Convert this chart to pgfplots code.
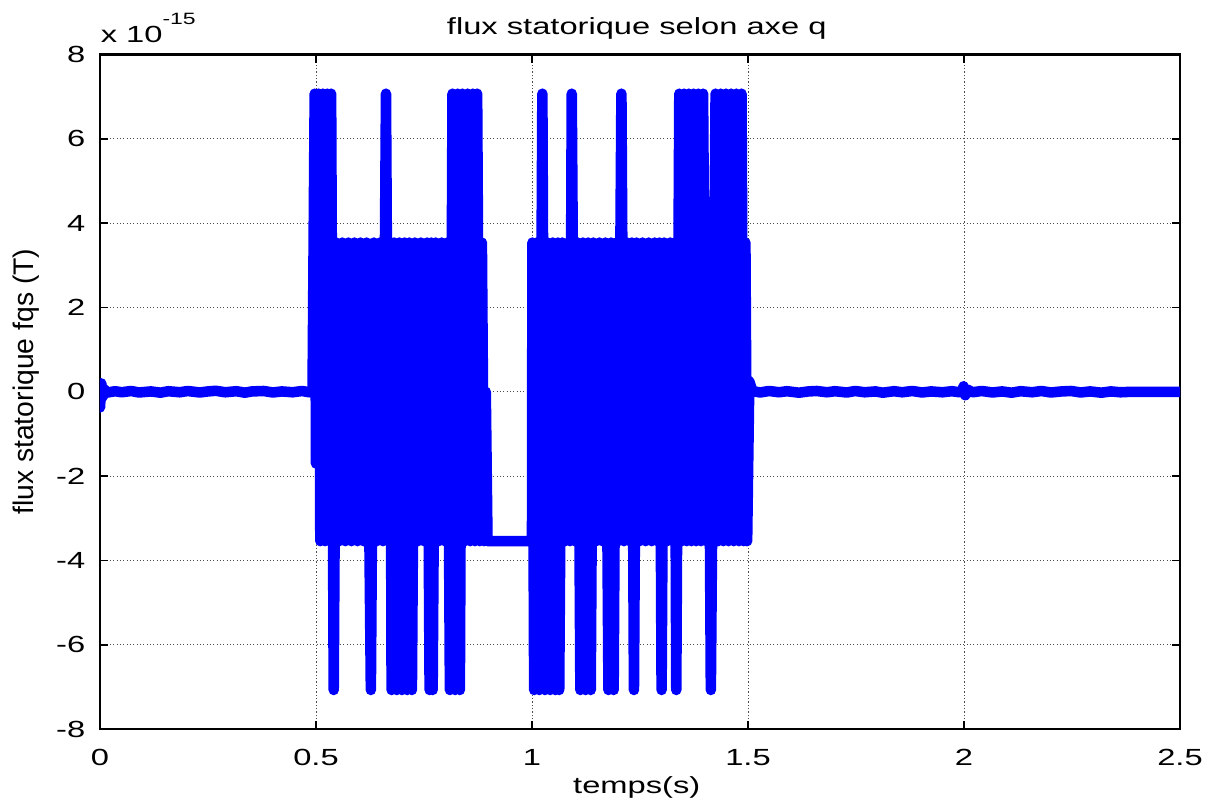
\documentclass[border=0pt]{standalone}
\usepackage{fontspec}
\setmainfont{Liberation Sans}
\usepackage{pgfplots}
\pgfplotsset{compat=1.18}
\newcommand{\lblfont}{\fontsize{8.4}{10}\selectfont}
\begin{document}
\begin{tikzpicture}
\begin{axis}[
  scale only axis,
  width=388.8pt, height=242.9pt,
  xmin=0, xmax=2.5, ymin=-8, ymax=8,
  xtick={0,0.5,1,1.5,2,2.5},
  xticklabels={0,0.5,1,1.5,2,2.5},
  ytick={-8,-6,-4,-2,0,2,4,6,8},
  yticklabels={-8,-6,-4,-2,0,2,4,6,8},
  tick align=inside,
  major tick length=3pt,
  every tick/.style={black, line width=0.6pt},
  axis line style={black, line width=0.8pt},
  grid=major,
  grid style={gray!60!black, line width=0.35pt, dash pattern=on 0.4pt off 0.8pt},
  xticklabel style={font=\lblfont, xscale=1.4, anchor=base, yshift=-13.2pt},
  yticklabel style={font=\lblfont, xscale=1.4, anchor=east, inner sep=0pt, xshift=-3.6pt},
  title={flux statorique selon axe q},
  title style={at={(axis description cs:0.497,1.029)}, anchor=base, yshift=-6pt, font=\lblfont, xscale=1.4, inner sep=0pt},
  xlabel={temps(s)},
  xlabel style={at={(axis description cs:0.497,-0.0948)}, anchor=base, font=\lblfont, xscale=1.4, inner sep=0pt},
  ylabel={flux statorique fqs (T)},
  ylabel style={at={(axis description cs:-0.0685,0.515)}, anchor=center, font=\fontsize{10.2}{12}\selectfont, inner sep=0pt},
]
\addplot[color={rgb,255:red,0;green,0;blue,255}, line width=3.8pt, line join=round, line cap=round, mark=none] table {
t y
0.000 -0.37
0.003 0.20
0.006 -0.12
0.010 0.06
0.015 -0.02
0.035 0.015
0.050 -0.01
0.072 0.02
0.090 -0.015
0.118 0.01
0.140 -0.02
0.158 0.015
0.185 -0.01
0.203 0.02
0.231 -0.015
0.250 0.01
0.268 0.025
0.290 -0.01
0.316 0.015
0.335 -0.02
0.352 0.01
0.379 0.02
0.400 -0.015
0.421 0.01
0.446 -0.01
0.468 0.02
0.484 -0.01
0.492 0
0.497 7.07
0.500 -1.7
0.506 7.07
0.510 -3.54
0.516 7.07
0.521 -3.54
0.526 7.07
0.531 -3.54
0.535 7.07
0.541 -7.07
0.547 3.54
0.554 -3.54
0.561 3.54
0.568 -3.54
0.575 3.54
0.582 -3.54
0.589 3.54
0.596 -3.54
0.603 3.54
0.610 -3.54
0.617 3.54
0.627 -7.07
0.634 3.54
0.641 -3.54
0.648 3.54
0.655 -3.54
0.662 7.07
0.668 -3.54
0.672 3.54
0.675 -7.07
0.681 3.54
0.687 -7.07
0.693 3.54
0.699 -7.07
0.705 3.54
0.711 -7.07
0.716 3.54
0.722 -7.07
0.729 3.54
0.736 -3.54
0.743 3.54
0.750 -3.54
0.757 3.54
0.763 -7.07
0.767 3.54
0.770 -7.07
0.777 3.54
0.784 -3.54
0.791 3.54
0.798 -3.54
0.804 3.54
0.810 -7.07
0.816 7.07
0.822 -7.07
0.828 7.07
0.833 -7.07
0.839 7.07
0.845 -3.54
0.851 7.07
0.857 -3.54
0.863 7.07
0.868 -3.54
0.873 7.07
0.879 -3.54
0.884 3.54
0.889 -3.54
0.893 0
0.897 -3.54
1.000 -3.54
1.001 3.54
1.005 -7.07
1.011 3.54
1.017 -7.07
1.024 7.07
1.030 -7.07
1.036 3.54
1.042 -7.07
1.048 3.54
1.054 -7.07
1.060 3.54
1.063 -7.07
1.070 3.54
1.077 -3.54
1.084 3.54
1.088 -3.54
1.092 7.07
1.099 -3.54
1.106 3.54
1.112 -7.07
1.118 3.54
1.124 -7.07
1.130 3.54
1.136 -7.07
1.142 3.54
1.149 -3.54
1.156 3.54
1.163 -3.54
1.170 3.54
1.177 -7.07
1.183 3.54
1.189 -7.07
1.195 3.54
1.200 -3.54
1.207 7.07
1.213 -3.54
1.220 3.54
1.226 -3.54
1.231 3.54
1.236 -7.07
1.242 3.54
1.249 -3.54
1.256 3.54
1.263 -3.54
1.270 3.54
1.277 -3.54
1.284 3.54
1.290 -3.54
1.295 3.54
1.300 -7.07
1.306 3.54
1.313 -3.54
1.320 3.54
1.327 -3.54
1.330 3.54
1.334 -7.07
1.341 7.07
1.347 -3.54
1.352 7.07
1.358 -3.54
1.363 7.07
1.369 -3.54
1.374 7.07
1.380 -3.54
1.385 7.07
1.391 -3.54
1.396 7.07
1.403 -3.54
1.408 3.54
1.414 -7.07
1.425 7.07
1.431 -3.54
1.437 7.07
1.443 -3.54
1.449 7.07
1.455 -3.54
1.461 7.07
1.467 -3.54
1.473 7.07
1.479 -3.54
1.485 7.07
1.490 -3.54
1.494 3.54
1.498 -3.54
1.503 0.25
1.510 0.02
1.528 -0.015
1.549 0.02
1.572 -0.01
1.590 0.015
1.618 -0.02
1.640 0.01
1.659 0.02
1.683 -0.01
1.701 0.015
1.729 -0.015
1.748 0.02
1.770 -0.01
1.795 0.01
1.812 -0.02
1.838 0.015
1.857 -0.01
1.880 0.02
1.903 -0.015
1.924 0.01
1.950 -0.01
1.972 0.015
1.990 -0.01
1.996 0.0
1.999 0.13
2.003 -0.08
2.008 0.05
2.020 -0.01
2.041 0.02
2.066 -0.015
2.088 0.01
2.110 -0.02
2.131 0.015
2.158 -0.01
2.179 0.02
2.201 -0.015
2.226 0.01
2.248 0.02
2.270 -0.015
2.292 0.01
2.318 -0.02
2.340 0.01
2.362 -0.01
2.385 0
2.500 0
};
\end{axis}
\node[anchor=base west, xscale=1.4, font=\lblfont, inner sep=0pt] at ([yshift=4.25pt]current axis.north west) {x 10\raisebox{6.4pt}{\fontsize{5.9}{7}\selectfont -15}};
\pgfresetboundingbox
\path[use as bounding box] ([xshift=-36pt,yshift=-27.6pt]current axis.south west) rectangle ([xshift=14.76pt,yshift=19.62pt]current axis.north east);
\end{tikzpicture}
\end{document}
